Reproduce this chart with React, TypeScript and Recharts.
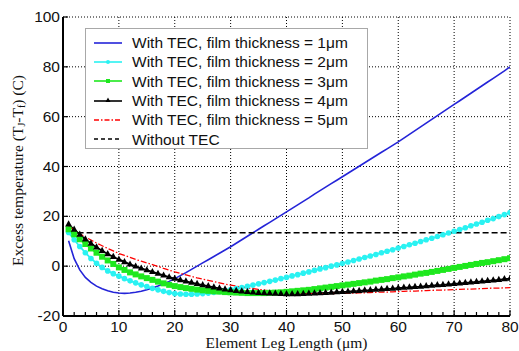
import React from 'react';
import { LineChart, Line, XAxis, YAxis, CartesianGrid, Legend } from 'recharts';

// element leg length (µm)
const legLengths = [
  1, 2, 3, 4, 5, 6, 7, 8, 9, 10, 11, 12, 13, 14, 15, 16, 17, 18, 19, 20,
  21, 22, 23, 24, 25, 26, 27, 28, 29, 30, 31, 32, 33, 34, 35, 36, 37, 38, 39, 40,
  41, 42, 43, 44, 45, 46, 47, 48, 49, 50, 51, 52, 53, 54, 55, 56, 57, 58, 59, 60,
  61, 62, 63, 64, 65, 66, 67, 68, 69, 70, 71, 72, 73, 74, 75, 76, 77, 78, 79, 80,
];

// excess temperature (C), one list per film thickness
const film1um = [
  10.2, 3.0, -1.5, -4.5, -6.5, -8.0, -9.1, -9.9, -10.5, -10.8, -10.9, -10.8, -10.5, -10.1, -9.5, -8.8, -8.0, -7.1, -6.1, -5.0,
  -3.8, -2.6, -1.3, 0.0, 1.3, 2.6, 3.9, 5.2, 6.5, 7.8, 9.2, 10.6, 12.0, 13.4, 14.8, 16.2, 17.6, 19.0, 20.4, 21.8,
  23.2, 24.6, 26.0, 27.4, 28.9, 30.3, 31.7, 33.1, 34.5, 35.9, 37.3, 38.7, 40.1, 41.5, 42.9, 44.3, 45.7, 47.1, 48.5, 49.9,
  51.4, 52.9, 54.4, 55.9, 57.4, 58.9, 60.4, 61.9, 63.4, 64.9, 66.4, 67.9, 69.4, 70.9, 72.4, 73.9, 75.4, 76.9, 78.4, 80.0,
];
const film2um = [
  13.5, 10.6, 7.9, 5.4, 3.1, 1.2, -0.5, -1.9, -3.0, -4.0, -5.0, -5.9, -6.7, -7.5, -8.2, -8.9, -9.5, -10.1, -10.6, -11.0,
  -11.2, -11.3, -11.3, -11.2, -11.0, -10.8, -10.5, -10.2, -9.8, -9.4, -9.0, -8.6, -8.1, -7.6, -7.1, -6.6, -6.1, -5.6, -5.0, -4.5,
  -3.9, -3.4, -2.8, -2.3, -1.7, -1.1, -0.6, 0.0, 0.5, 1.1, 1.7, 2.3, 2.9, 3.5, 4.1, 4.7, 5.4, 6.0, 6.6, 7.3,
  7.9, 8.6, 9.2, 9.9, 10.6, 11.2, 11.9, 12.6, 13.3, 14.0, 14.7, 15.4, 16.2, 16.9, 17.6, 18.4, 19.1, 19.9, 20.7, 21.5,
];
const film3um = [
  14.8, 12.8, 10.8, 8.9, 7.1, 5.4, 3.8, 2.3, 0.9, -0.5, -1.5, -2.5, -3.3, -4.1, -4.8, -5.5, -6.2, -6.9, -7.5, -8.0,
  -8.4, -8.8, -9.1, -9.4, -9.7, -9.9, -10.1, -10.2, -10.4, -10.5, -10.6, -10.7, -10.8, -10.8, -10.8, -10.8, -10.7, -10.6, -10.5, -10.3,
  -10.1, -9.9, -9.7, -9.5, -9.2, -8.9, -8.6, -8.3, -8.0, -7.7, -7.4, -7.1, -6.8, -6.5, -6.2, -5.8, -5.5, -5.2, -4.8, -4.5,
  -4.1, -3.8, -3.4, -3.0, -2.7, -2.3, -1.9, -1.5, -1.1, -0.7, -0.3, 0.1, 0.5, 0.9, 1.3, 1.6, 2.0, 2.4, 2.8, 3.2,
];
const film4um = [
  16.8, 14.7, 12.7, 10.8, 9.1, 7.6, 6.2, 4.9, 3.8, 2.7, 1.7, 0.7, -0.1, -0.9, -1.6, -2.3, -3.0, -3.7, -4.4, -5.0,
  -5.6, -6.1, -6.6, -7.1, -7.6, -8.0, -8.5, -8.9, -9.3, -9.6, -9.9, -10.1, -10.3, -10.5, -10.7, -10.8, -10.9, -11.0, -11.1, -11.2,
  -11.2, -11.2, -11.1, -11.0, -10.9, -10.8, -10.7, -10.6, -10.4, -10.3, -10.2, -10.0, -9.9, -9.7, -9.6, -9.4, -9.3, -9.1, -9.0, -8.8,
  -8.6, -8.5, -8.3, -8.2, -8.0, -7.8, -7.6, -7.5, -7.3, -7.1, -6.9, -6.7, -6.5, -6.3, -6.1, -5.9, -5.7, -5.5, -5.2, -5.0,
];
const film5um = [
  16.0, 14.5, 13.0, 11.7, 10.5, 9.3, 8.2, 7.1, 6.1, 5.1, 4.3, 3.5, 2.7, 2.0, 1.3, 0.6, -0.1, -0.9, -1.6, -2.3,
  -2.9, -3.5, -4.1, -4.7, -5.2, -5.7, -6.2, -6.7, -7.2, -7.6, -8.0, -8.4, -8.7, -9.0, -9.3, -9.6, -9.9, -10.1, -10.3, -10.5,
  -10.6, -10.7, -10.8, -10.9, -11.0, -11.0, -11.0, -11.0, -10.9, -10.9, -10.8, -10.8, -10.7, -10.7, -10.6, -10.5, -10.4, -10.4, -10.3, -10.2,
  -10.1, -10.0, -10.0, -9.9, -9.8, -9.7, -9.6, -9.6, -9.5, -9.4, -9.3, -9.2, -9.2, -9.1, -9.0, -8.9, -8.8, -8.8, -8.7, -8.6,
];

// reference without TEC
const noTecLengths = [1, 80];
const noTecValues = [13.4, 13.4];

const xTicks = [0, 2, 4, 6, 8, 10, 12, 14, 16, 18, 20, 22, 24, 26, 28, 30, 32, 34, 36, 38, 40,
  42, 44, 46, 48, 50, 52, 54, 56, 58, 60, 62, 64, 66, 68, 70, 72, 74, 76, 78, 80];
const xGrid = [0, 10, 20, 30, 40, 50, 60, 70, 80];
const yTicks = [-20, 0, 20, 40, 60, 80, 100];

const data = legLengths.map((x, i) => ({
  x,
  t1: film1um[i],
  t2: film2um[i],
  t3: film3um[i],
  t4: film4um[i],
  t5: film5um[i],
}));
const noTecData = noTecLengths.map((x, i) => ({ x, t0: noTecValues[i] }));

const SANS = '"Liberation Sans", Arial, sans-serif';
const SERIF = '"Liberation Serif", "Times New Roman", serif';

const BLUE = '#2424d8';
const CYAN = '#2af2f2';
const GREEN = '#1ee81e';
const RED = '#ff0000';

const BottomTick = (props: any) => {
  const { x, y, payload } = props;
  const major = payload.value % 10 === 0;
  return (
    <g>
      <line x1={x} x2={x} y1={y} y2={y - (major ? 6 : 4)} stroke="#000" strokeWidth={1.2} />
      {major && (
        <text x={x} y={y + 16} textAnchor="middle" fontFamily={SANS} fontSize={15.5} fill="#111">
          {payload.value}
        </text>
      )}
    </g>
  );
};

const TopTick = (props: any) => {
  const { x, y, payload } = props;
  const major = payload.value % 10 === 0;
  return <line x1={x} x2={x} y1={y} y2={y + (major ? 6 : 4)} stroke="#000" strokeWidth={1.2} />;
};

const LeftTick = (props: any) => {
  const { x, y, payload } = props;
  return (
    <g>
      <line x1={x} x2={x + 5} y1={y} y2={y} stroke="#000" strokeWidth={1.2} />
      <text x={x - 3} y={y + 5} textAnchor="end" fontFamily={SANS} fontSize={15.5} fill="#111">
        {payload.value}
      </text>
    </g>
  );
};

const RightTick = (props: any) => {
  const { x, y } = props;
  return <line x1={x} x2={x - 5} y1={y} y2={y} stroke="#000" strokeWidth={1.2} />;
};

const CircleDot = (props: any) => {
  const { cx, cy, index } = props;
  return <circle key={`c-${index}`} cx={cx} cy={cy} r={2.8} fill={CYAN} />;
};

const SquareDot = (props: any) => {
  const { cx, cy, index } = props;
  return <rect key={`s-${index}`} x={cx - 3} y={cy - 3} width={6} height={6} fill={GREEN} />;
};

const TriangleDot = (props: any) => {
  const { cx, cy, index } = props;
  return (
    <polygon
      key={`t-${index}`}
      points={`${cx},${cy - 4} ${cx - 3.4},${cy + 2.2} ${cx + 3.4},${cy + 2.2}`}
      fill="#000"
    />
  );
};

const legendRows = [
  { text: 'With TEC, film thickness = 1μm', color: BLUE, dash: undefined, marker: null },
  { text: 'With TEC, film thickness = 2μm', color: CYAN, dash: undefined, marker: 'circle' },
  { text: 'With TEC, film thickness = 3μm', color: GREEN, dash: undefined, marker: 'square' },
  { text: 'With TEC, film thickness = 4μm', color: '#000', dash: undefined, marker: 'triangle' },
  { text: 'With TEC, film thickness = 5μm', color: RED, dash: '5 2 1.5 2', marker: null },
  { text: 'Without TEC', color: '#000', dash: '4 3', marker: null },
];

const LegendBox = () => (
  <div
    style={{
      width: 283,
      height: 121,
      boxSizing: 'border-box',
      border: '1px solid #a8a8a8',
      background: '#fff',
      paddingTop: 4,
    }}
  >
    {legendRows.map((row) => (
      <div key={row.text} style={{ display: 'flex', alignItems: 'center', height: 19.3 }}>
        <svg width={46} height={12} style={{ flex: 'none' }}>
          <line x1={8} x2={36} y1={6} y2={6} stroke={row.color} strokeWidth={1.6} strokeDasharray={row.dash} />
          {row.marker === 'circle' && <circle cx={22} cy={6} r={2} fill={row.color} />}
          {row.marker === 'square' && <rect x={20} y={4} width={4} height={4} fill={row.color} />}
          {row.marker === 'triangle' && <polygon points="22,2.5 19.5,7 24.5,7" fill={row.color} />}
        </svg>
        <span style={{ fontFamily: SANS, fontSize: 15.5, color: '#111', whiteSpace: 'nowrap', lineHeight: '19px' }}>
          {row.text}
        </span>
      </div>
    ))}
  </div>
);

const YTitle = (props: any) => {
  const { viewBox } = props;
  const cx = viewBox.x + 17;
  const cy = viewBox.y + viewBox.height / 2 + 4;
  return (
    <text
      x={cx}
      y={cy}
      transform={`rotate(-90, ${cx}, ${cy})`}
      textAnchor="middle"
      dominantBaseline="central"
      fontFamily={SERIF}
      fontSize={15.5}
      fill="#111"
    >
      Excess temperature (T
      <tspan fontSize={10} dy={4}>J</tspan>
      <tspan dy={-4}>-T</tspan>
      <tspan fontSize={10} dy={4}>f</tspan>
      <tspan dy={-4}>) (C)</tspan>
    </text>
  );
};

const XTitle = (props: any) => {
  const { viewBox } = props;
  return (
    <text
      x={viewBox.x + viewBox.width / 2}
      y={viewBox.y + 32}
      textAnchor="middle"
      fontFamily={SERIF}
      fontSize={15.5}
      fill="#111"
    >
      Element Leg Length (μm)
    </text>
  );
};

export default function App() {
  return (
    <div style={{ position: 'absolute', left: 0, top: 0, background: '#fff' }}>
      <LineChart width={519} height={351} data={data} margin={{ top: 17, right: 9, left: 0, bottom: 0 }}>
        <CartesianGrid
          stroke="#000"
          strokeWidth={1}
          strokeDasharray="1 2"
          verticalValues={xGrid}
          horizontalValues={yTicks}
        />
        <XAxis
          dataKey="x"
          type="number"
          domain={[0, 80]}
          ticks={xTicks}
          interval={0}
          height={35}
          tickSize={0}
          tickMargin={0}
          tick={BottomTick}
          axisLine={{ stroke: '#000', strokeWidth: 2 }}
          allowDataOverflow
          label={{ content: XTitle }}
        />
        <XAxis
          xAxisId="top"
          orientation="top"
          dataKey="x"
          type="number"
          domain={[0, 80]}
          ticks={xTicks}
          interval={0}
          height={0}
          tickSize={0}
          tickMargin={0}
          tick={TopTick}
          axisLine={{ stroke: '#000', strokeWidth: 2 }}
          allowDataOverflow
        />
        <YAxis
          type="number"
          domain={[-20, 100]}
          ticks={yTicks}
          interval={0}
          width={63}
          tickSize={0}
          tickMargin={0}
          tick={LeftTick}
          axisLine={{ stroke: '#000', strokeWidth: 2 }}
          allowDataOverflow
          label={{ content: YTitle }}
        />
        <YAxis
          yAxisId="right"
          orientation="right"
          type="number"
          domain={[-20, 100]}
          ticks={yTicks}
          interval={0}
          width={0}
          tickSize={0}
          tickMargin={0}
          tick={RightTick}
          axisLine={{ stroke: '#000', strokeWidth: 2 }}
          allowDataOverflow
        />
        <Legend
          layout="horizontal"
          verticalAlign="middle"
          align="center"
          content={LegendBox}
          wrapperStyle={{ left: 85, top: 28, bottom: 'auto', width: 283, height: 121 }}
        />
        <Line dataKey="t1" stroke={BLUE} strokeWidth={1.6} dot={false} isAnimationActive={false} />
        <Line dataKey="t2" stroke={CYAN} strokeWidth={1.8} dot={CircleDot} isAnimationActive={false} />
        <Line dataKey="t3" stroke={GREEN} strokeWidth={1.8} dot={SquareDot} isAnimationActive={false} />
        <Line dataKey="t4" stroke="#000" strokeWidth={1.8} dot={TriangleDot} isAnimationActive={false} />
        <Line dataKey="t5" stroke={RED} strokeWidth={1.3} strokeDasharray="6 2 1.5 2" dot={false} isAnimationActive={false} />
        <Line
          data={noTecData}
          dataKey="t0"
          stroke="#000"
          strokeWidth={1.6}
          strokeDasharray="6 3"
          dot={false}
          isAnimationActive={false}
        />
      </LineChart>
    </div>
  );
}
